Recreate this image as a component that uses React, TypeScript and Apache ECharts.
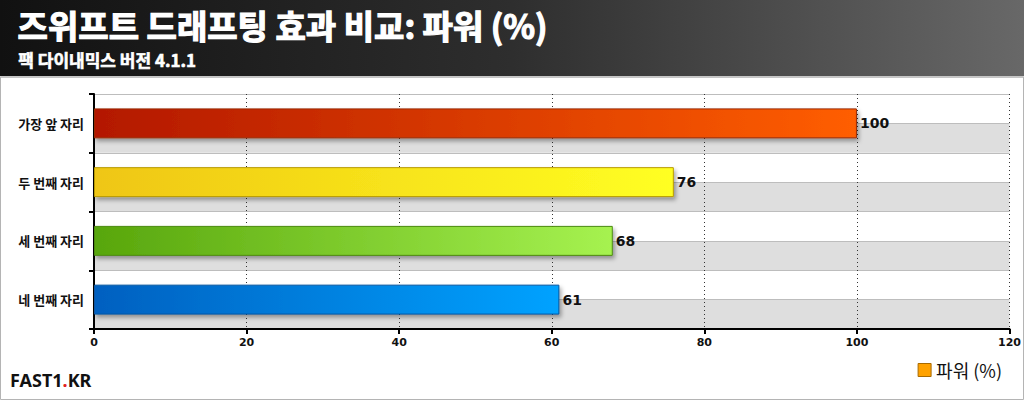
import React, { useEffect, useRef } from "react";
import * as echarts from "echarts";

const categories = ["가장 앞 자리", "두 번째 자리", "세 번째 자리", "네 번째 자리"];
const values = [100, 76, 68, 61];
const barColors: [string, string, string][] = [
  ["#b31800", "#ff5e00", "#9a2a00"],
  ["#efc612", "#ffff22", "#b89a00"],
  ["#58a60c", "#a6f250", "#4c8a10"],
  ["#0060c0", "#00a2ff", "#0a55a0"],
];
const xTicks = [0, 20, 40, 60, 80, 100, 120];

const title = "즈위프트 드래프팅 효과 비교: 파워 (%)";
const subtitle = "팩 다이내믹스 버전 4.1.1";
const seriesName = "파워 (%)";

export default function App() {
  const ref = useRef<HTMLDivElement>(null);

  useEffect(() => {
    document.body.style.margin = "0";
    if (!ref.current) return;
    const chart = echarts.init(ref.current, null, { renderer: "svg" });
    const font = "'Noto Sans CJK KR', 'DejaVu Sans', sans-serif";

    const option: echarts.EChartsOption = {
      animation: false,
      backgroundColor: "#ffffff",
      grid: { left: 94, right: 14, top: 94, bottom: 71 },
      legend: {
        right: 17,
        bottom: 16,
        itemWidth: 13,
        itemHeight: 13,
        itemGap: 12,
        textStyle: { fontFamily: font, fontSize: 18, color: "#111" },
        data: [
          {
            name: seriesName,
            icon: "rect",
            itemStyle: { color: "#ffa200", borderColor: "#a86a00", borderWidth: 1 },
          },
        ],
      },
      xAxis: {
        type: "value",
        min: 0,
        max: xTicks[xTicks.length - 1],
        interval: 20,
        z: 1,
        axisLine: { show: true, lineStyle: { color: "#000", width: 2 } },
        axisTick: { show: true, length: 5, lineStyle: { color: "#000", width: 2 } },
        axisLabel: {
          margin: 8,
          fontFamily: "'DejaVu Sans', sans-serif",
          fontWeight: "bold",
          fontSize: 11,
          color: "#111",
        },
        splitLine: { show: true, lineStyle: { color: "#333", type: [1, 3], width: 1 } },
      },
      yAxis: [
        {
          type: "category",
          data: categories,
          inverse: true,
          z: 2,
          axisLine: { show: true, lineStyle: { color: "#000", width: 2 } },
          axisTick: { show: true, length: 5, lineStyle: { color: "#000", width: 2 } },
          axisLabel: {
            margin: 10,
            fontFamily: font,
            fontWeight: "bold",
            fontSize: 13,
            color: "#111",
          },
          splitLine: { show: false },
        },
        {
          type: "value",
          min: 0,
          max: 8,
          interval: 1,
          position: "right",
          z: -1,
          axisLine: { show: false },
          axisTick: { show: false },
          axisLabel: { show: false },
          splitLine: { show: true, lineStyle: { color: "#bdbdbd", width: 1 } },
          splitArea: { show: true, areaStyle: { color: ["#dedede", "#ffffff"] } },
        },
      ],
      series: [
        {
          name: seriesName,
          type: "bar",
          yAxisIndex: 0,
          barWidth: "51%",
          data: values.map((v, i) => ({
            value: v,
            itemStyle: {
              color: new echarts.graphic.LinearGradient(0, 0, 1, 0, [
                { offset: 0, color: barColors[i][0] },
                { offset: 1, color: barColors[i][1] },
              ]),
              borderColor: barColors[i][2],
              borderWidth: 1,
              shadowColor: "rgba(0,0,0,0.35)",
              shadowBlur: 4,
              shadowOffsetX: 2,
              shadowOffsetY: 3,
            },
          })),
          label: {
            show: true,
            position: "right",
            distance: 3,
            fontFamily: "'DejaVu Sans', sans-serif",
            fontWeight: "bold",
            fontSize: 14,
            color: "#111",
          },
        },
      ],
      graphic: [
        {
          type: "rect",
          shape: { x: 0, y: 0, width: 1024, height: 76 },
          style: {
            fill: new echarts.graphic.LinearGradient(0, 0, 1, 0, [
              { offset: 0, color: "#111111" },
              { offset: 0.5, color: "#2e2e2e" },
              { offset: 1, color: "#686868" },
            ]),
          },
          silent: true,
        },
        {
          type: "line",
          shape: { x1: 0, y1: 77, x2: 1024, y2: 77 },
          style: { stroke: "#b0b0b0", lineWidth: 1 },
          silent: true,
        },
        {
          type: "text",
          left: 17,
          top: 8,
          style: {
            text: title,
            fill: "#ffffff",
            stroke: "#ffffff",
            lineWidth: 1.2,
            font: `bold 33px ${font}`,
          },
        },
        {
          type: "text",
          left: 18,
          top: 51,
          style: {
            text: subtitle,
            fill: "#ffffff",
            stroke: "#ffffff",
            lineWidth: 0.6,
            font: `bold 17px ${font}`,
          },
        },
        {
          type: "text",
          left: 10,
          top: 371,
          style: {
            text: "{a|FAST1}{r|.}{a|KR}",
            rich: {
              a: { fontFamily: "'Noto Sans', sans-serif", fontSize: 18, fontWeight: "bold", fill: "#111111" },
              r: { fontFamily: "'Noto Sans', sans-serif", fontSize: 18, fontWeight: "bold", fill: "#e02020" },
            },
          },
        },
        {
          type: "rect",
          shape: { x: 0.5, y: 77, width: 1023, height: 322.5 },
          style: { fill: "none", stroke: "#b4b4b4", lineWidth: 1 },
          silent: true,
        },
      ],
    };

    chart.setOption(option);
    return () => chart.dispose();
  }, []);

  return <div ref={ref} style={{ width: 1024, height: 400 }} />;
}
